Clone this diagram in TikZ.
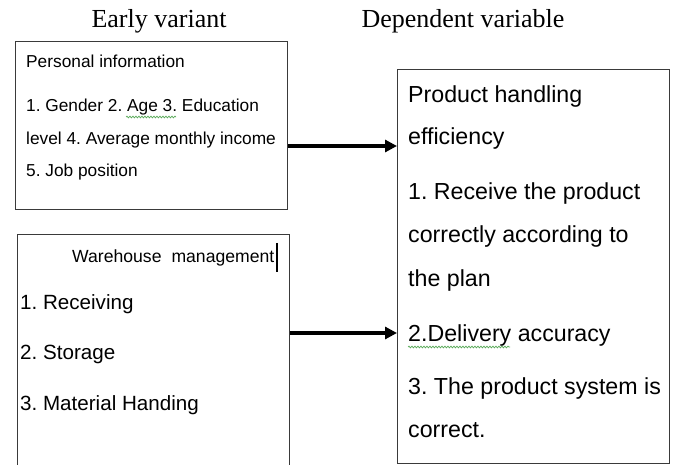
\documentclass[tikz,border=0pt]{standalone}
\usepackage{fontspec}
\setmainfont{Liberation Sans}
\newfontfamily\titlefont{Liberation Serif}
\usetikzlibrary{arrows.meta,decorations.pathmorphing}
\definecolor{boxgray}{HTML}{3A3A3A}
\definecolor{spellgreen}{HTML}{5AAA5A}
\tikzset{
  box/.style={draw=boxgray, line width=1pt, inner sep=0pt, anchor=north west},
  txt/.style={anchor=base west, inner sep=0pt, text=black},
  ttl/.style={anchor=base, inner sep=0pt, font=\titlefont\fontsize{26}{30}\selectfont},
  arr/.style={line width=3.5pt, -{Triangle[length=12pt,width=12pt]}},
  squig/.style={spellgreen, line width=0.7pt, decorate, decoration={snake, amplitude=0.9pt, segment length=3pt}},
}
\frenchspacing
\begin{document}
\begin{tikzpicture}[x=1pt,y=-1pt]
\clip (0,0) rectangle (673,465);
% titles
\node[ttl] (t1) at (159,28) {Early variant};
\node[ttl] (t2) at (463,28) {Dependent variable};
% boxes
\node[box, minimum width=272pt, minimum height=168pt] (b1) at (15,41) {};
\node[box, minimum width=272pt, minimum height=260pt] (b2) at (17,234) {};
\node[box, minimum width=272pt, minimum height=394pt] (b3) at (397,69) {};
% box 1 text
\begin{scope}[every node/.append style={font=\fontsize{17.3}{20}\selectfont}]
\node[txt] (p0) at (26,68) {Personal information};
\node[txt] (p1) at (26,112) {1. Gender 2. Age 3. Education};
\node[txt] (p2) at (26,145) {level 4. Average monthly income};
\node[txt] (p3) at (26,177) {5. Job position};
\end{scope}
\node[txt, font=\fontsize{17.6}{20}\selectfont] (w0) at (72,263) {Warehouse\hspace{10pt}management};
\draw[squig] (126,117) -- (176,117);
\draw[black, line width=2pt] (277,243) -- (277,272);
% box 2 text
\begin{scope}[every node/.append style={font=\fontsize{20.6}{24}\selectfont}]
\node[txt] (w1) at (20,310) {1. Receiving};
\node[txt] (w2) at (20,360) {2. Storage};
\node[txt] (w3) at (20,410) {3. Material Handing};
\end{scope}
% box 3 text
\begin{scope}[every node/.append style={font=\fontsize{23.2}{26}\selectfont}]
\node[txt] (r1) at (408,103) {Product handling};
\node[txt] (r2) at (408,145) {efficiency};
\node[txt] (r3) at (408,200) {1. Receive the product};
\node[txt] (r4) at (408,243) {correctly according to};
\node[txt] (r5) at (408,287) {the plan};
\node[txt] (r6) at (408,342) {2.Delivery accuracy};
\node[txt] (r7) at (408,395) {3. The product system is};
\node[txt] (r8) at (408,438) {correct.};
\end{scope}
\draw[squig] (408,347) -- (510,347);
% arrows
\coordinate (a1) at (0,146);
\coordinate (a2) at (0,333);
\draw[arr] (b1.east |- a1) -- (b3.west |- a1);
\draw[arr] (b2.east |- a2) -- (b3.west |- a2);
\end{tikzpicture}
\end{document}
